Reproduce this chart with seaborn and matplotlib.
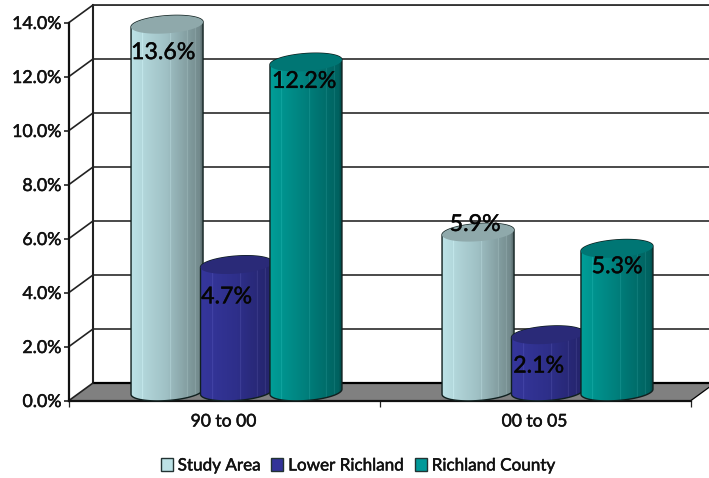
import numpy as np
import pandas as pd
import matplotlib
matplotlib.use("Agg")
import matplotlib.pyplot as plt
import matplotlib.patheffects as pe
from matplotlib.colors import to_rgb
from matplotlib.lines import Line2D
from matplotlib.patches import Patch, Polygon
from matplotlib.path import Path
import seaborn as sns

periods = ["90 to 00", "00 to 05"]
areas = ["Study Area", "Lower Richland", "Richland County"]
study_area = [13.6, 5.9]
lower_richland = [4.7, 2.1]
richland_county = [12.2, 5.3]
y_ticks = [0, 2, 4, 6, 8, 10, 12, 14]

# Pixel layout of the pseudo-3D box
W, H = 709, 478
LEFT, BASE, PLOT_W, PLOT_H = 69, 400.5, 622, 378
DEPTH_X, DEPTH_Y = 24, 17.5

# Horizontal shading of each cylinder: left, middle, right, cap colour
shades = {
    "Study Area": ("#BCE2E6", "#9FC0C4", "#6F8587", "#8FA9AB"),
    "Lower Richland": ("#35369C", "#2E2F8A", "#24246A", "#2A2A78"),
    "Richland County": ("#009E98", "#007F7C", "#005F5D", "#007674"),
}
swatches = {"Study Area": "#BCE2E6", "Lower Richland": "#333399", "Richland County": "#009999"}
# Label nudges in pixels from the centre of each cylinder's cap
label_nudges = {
    "Study Area": [(-4, -28), (-3, 8)],
    "Lower Richland": [(-10, -32), (-9, -31)],
    "Richland County": [(-2, -19), (0, -18)],
}
# A hairline outline gives the text the slightly heavier look of a medium weight
heavier = [pe.withStroke(linewidth=0.35, foreground="#111111")]

sns.set_theme(style="white")
plt.rcParams["font.family"] = ["Lato", "DejaVu Sans"]

frame = pd.DataFrame({
    "period": periods * 3,
    "area": np.repeat(areas, 2),
    "growth": study_area + lower_richland + richland_county,
})

fig = plt.figure(figsize=(W / 100, H / 100), dpi=100, facecolor="white")


def plane(dx, dy, **kw):
    rect = [(LEFT + dx) / W, (H - BASE + dy) / H, PLOT_W / W, PLOT_H / H]
    ax = fig.add_axes(rect, **kw)
    ax.set_xlim(-0.5, 1.5)
    ax.set_ylim(0, 14)
    return ax


def fig_xy(px, py):
    return px / W, (H - py) / H


# Back wall with its gridlines
back = plane(DEPTH_X, DEPTH_Y, zorder=1)
back.set_xticks([])
back.set_yticks(y_ticks)
back.tick_params(left=False, labelleft=False)
back.grid(axis="y", color="#2a2a2a", linewidth=1.2)
back.set_axisbelow(True)
back.spines["left"].set(color="#222222", linewidth=1.5)
back.spines["top"].set(color="#333333", linewidth=1.3)
back.spines["right"].set_visible(False)
back.spines["bottom"].set_visible(False)

# Floor and the diagonals joining the side wall to the back wall
floor = Polygon(
    [fig_xy(LEFT, BASE), fig_xy(LEFT + DEPTH_X, BASE - DEPTH_Y),
     fig_xy(LEFT + PLOT_W + DEPTH_X, BASE - DEPTH_Y), fig_xy(LEFT + PLOT_W, BASE)],
    closed=True, transform=fig.transFigure, facecolor="#808080",
    edgecolor="none", zorder=1.5,
)
fig.add_artist(floor)
for xs, ys, lw in [
    ((LEFT + DEPTH_X, W), (BASE - DEPTH_Y, BASE - DEPTH_Y), 1.6),
    ((LEFT + PLOT_W, LEFT + PLOT_W + DEPTH_X), (BASE, BASE - DEPTH_Y), 0.9),
]:
    pts = [fig_xy(x, y) for x, y in zip(xs, ys)]
    fig.add_artist(Line2D([p[0] for p in pts], [p[1] for p in pts], color="black",
                          linewidth=lw, zorder=1.6))
for tick in y_ticks:
    py = BASE - tick * PLOT_H / 14
    a, b = fig_xy(LEFT, py), fig_xy(LEFT + DEPTH_X, py - DEPTH_Y)
    fig.add_artist(Line2D([a[0], b[0]], [a[1], b[1]], color="#222222", linewidth=1.2, zorder=1.6))

# Front plane carrying the axis and its labels
front = plane(0, 0, zorder=2)
front.patch.set_alpha(0)
front.set_xticks([-0.5, 0.5, 1.5])
front.set_xticklabels([])
front.set_yticks(y_ticks)
front.set_yticklabels([f"{t:.1f}%" for t in y_ticks], fontsize=12.8, color="#111111")
for label in front.get_yticklabels():
    label.set_path_effects(heavier)
front.tick_params(axis="y", left=True, length=3.5, width=1.2, color="#222222", pad=2)
front.tick_params(axis="x", bottom=True, length=4, width=0.9, color="#222222")
front.spines["left"].set(color="#111111", linewidth=1.6)
front.spines["bottom"].set(color="#111111", linewidth=1.6)
front.spines["top"].set_visible(False)
front.spines["right"].set_visible(False)
for i, name in enumerate(periods):
    front.annotate(name, (i, 0), xytext=(-1, -21), textcoords="offset pixels", ha="center",
                   va="center", fontsize=12.6, color="#111111", annotation_clip=False,
                   path_effects=heavier)

# Bars sit mid-way through the depth of the box
mid = plane(DEPTH_X / 2, DEPTH_Y / 2, zorder=3)
mid.patch.set_alpha(0)
mid.axis("off")
sns.barplot(data=frame, x="period", y="growth", hue="area", hue_order=areas, order=periods,
            palette=[shades[a][1] for a in areas], width=0.67, gap=0, legend=False, ax=mid,
            errorbar=None)
mid.set_xlim(-0.5, 1.5)
mid.set_ylim(0, 14)

PX_X = 2 / PLOT_W
PX_Y = 14 / PLOT_H
RADIUS, MINOR, TILT = 36, 8.8, 0.07


def gradient(name, n=90):
    left, middle, right, _ = shades[name]
    stops = np.array([to_rgb(left), to_rgb(middle), to_rgb(right)])
    t = np.linspace(0, 1, n)
    rgb = np.column_stack([np.interp(t, [0, 0.5, 1], stops[:, c]) for c in range(3)])
    for f in (0.16, 0.56, 0.79, 0.91):
        k = int(f * (n - 1))
        rgb[k] = np.clip(rgb[k] + 0.08, 0, 1)
    rgb[int(0.97 * n):] *= 0.85
    return rgb[np.newaxis, :, :]


def outline(cx, value, start, stop):
    t = np.linspace(start, stop, 60)
    px = RADIUS * np.cos(t)
    py = MINOR * np.sin(t) + TILT * px
    return cx + px * PX_X, value + py * PX_Y


for order, (name, bars) in enumerate(zip(areas, mid.containers)):
    for j, bar in enumerate(bars):
        cx = bar.get_x() + bar.get_width() / 2
        value = bar.get_height()
        base_x, base_y = outline(cx, 0, np.pi, 2 * np.pi)
        top_x, top_y = outline(cx, value, 0, np.pi)
        body = Path(np.column_stack([np.r_[base_x, top_x], np.r_[base_y, top_y]]))
        z = 3 + order + j * 0.01
        body_patch = plt.Polygon(body.vertices, closed=True, transform=mid.transData,
                                 facecolor="none", edgecolor="#10201f", linewidth=1.0,
                                 zorder=z + 0.2, clip_on=False)
        mid.add_patch(body_patch)
        bar.set_zorder(z)
        bar.set_clip_path(body_patch)
        image = mid.imshow(gradient(name), extent=(cx - RADIUS * PX_X, cx + RADIUS * PX_X, -1, value + 1),
                           aspect="auto", zorder=z + 0.1, interpolation="bilinear")
        image.set_clip_box(fig.bbox)
        image.set_clip_path(body_patch)
        cap_x, cap_y = outline(cx, value, 0, 2 * np.pi)
        mid.add_patch(plt.Polygon(np.column_stack([cap_x, cap_y]), closed=True,
                                  facecolor=shades[name][3], edgecolor="none",
                                  zorder=z + 0.3, clip_on=False))
        nudge = label_nudges[name][j]
        mid.annotate(f"{value:.1f}%", (cx, value), xytext=nudge, textcoords="offset pixels",
                     ha="center", va="center", fontsize=16.7, color="#050505", zorder=10,
                     annotation_clip=False, path_effects=heavier)
mid.set_xlim(-0.5, 1.5)
mid.set_ylim(0, 14)

handles = [Patch(facecolor=swatches[a], edgecolor="#223333", linewidth=1.0, label=a) for a in areas]
legend = fig.legend(handles=handles, loc="center", bbox_to_anchor=(358.5 / W, (H - 465.5) / H), ncol=3,
                    frameon=False, fontsize=12.3, handlelength=0.68, handleheight=0.72, handletextpad=0.3,
                    columnspacing=0.6, borderpad=0, labelcolor="#111111")
for text in legend.get_texts():
    text.set_path_effects(heavier)

fig.savefig("out.png", dpi=100)
